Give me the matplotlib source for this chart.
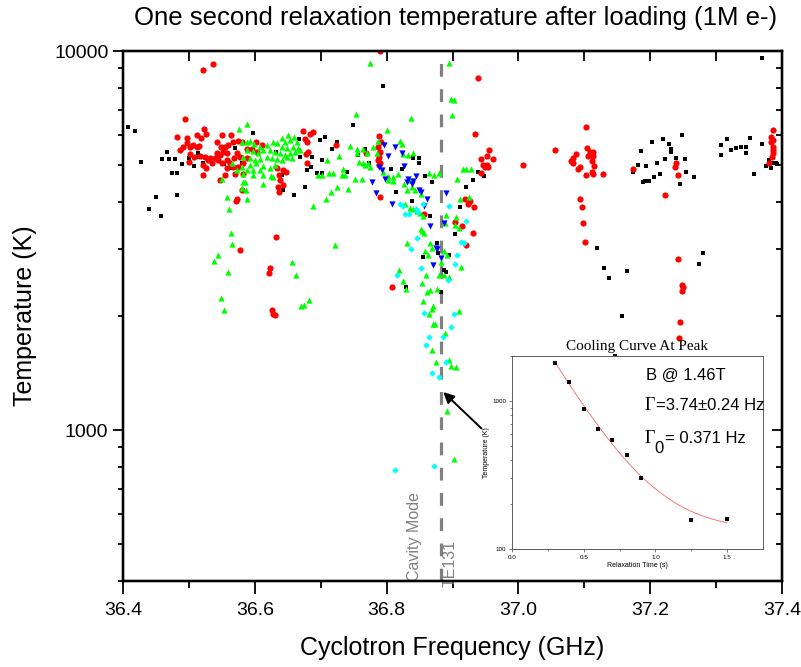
import numpy as np
import matplotlib
matplotlib.use("Agg")
import matplotlib.pyplot as plt
from matplotlib.ticker import FixedLocator, LogLocator, NullFormatter, FixedFormatter

plt.rcParams['font.family'] = ['Liberation Sans', 'DejaVu Sans']

# ---------------- data (frequency in GHz, temperature in K) ----------------
blk_f = [36.408, 36.418, 36.427, 36.439, 36.450, 36.458, 36.459, 36.467, 36.470, 36.474,
         36.479, 36.482, 36.482, 36.490, 36.491, 36.500, 36.508, 36.514, 36.515, 36.521,
         36.535, 36.553, 36.562, 36.570, 36.581, 36.597, 36.632, 36.641, 36.643, 36.659,
         36.667, 36.669, 36.676, 36.679, 36.685, 36.687, 36.694, 36.699, 36.702, 36.702,
         36.707, 36.717, 36.725, 36.740, 36.749, 36.757, 36.767, 36.773, 36.795, 36.807,
         36.814, 36.823, 36.840, 36.849, 36.849, 36.858, 36.869, 36.839, 36.866, 36.877,
         36.878, 36.855, 36.829, 36.895, 36.887, 36.890, 36.883, 36.904, 36.911, 36.920,
         36.931, 36.939, 36.948, 37.119, 37.130, 37.137, 37.165, 37.157, 37.147, 37.174,
         37.182, 37.186, 37.194, 37.189, 37.192, 37.198, 37.203, 37.206, 37.210, 37.215,
         37.219, 37.222, 37.228, 37.232, 37.232, 37.239, 37.248, 37.253, 37.245, 37.254,
         37.266, 37.274, 37.280, 37.307, 37.307, 37.316, 37.322, 37.330, 37.338, 37.345,
         37.345, 37.351, 37.358, 37.370, 37.370, 37.376, 37.380, 37.383, 37.386, 37.391,
         37.392]
blk_t = [6290, 6140, 5110, 3820, 4110, 3660, 5180, 5410, 5180, 4780,
         5180, 4760, 4160, 5020, 5540, 5210, 4960, 5370, 5240, 5050,
         5050, 5020, 4900, 5540, 5050, 6070, 5410, 4700, 4310, 4180,
         5850, 5240, 4390, 4840, 4930, 5240, 4780, 5820, 4760, 5150,
         5920, 5500, 5750, 4810, 6370, 5310, 5500, 5050, 8090, 4870,
         4260, 4870, 5210, 5210, 5080, 4670, 4500, 4010, 3660, 3120,
         2940, 2870, 2390, 2890, 2650, 2620, 2320, 3300, 3870, 4390,
         4580, 4810, 4670, 3030, 2680, 2520, 2630, 2000, 1570, 4810,
         4990, 5440, 4960, 4500, 4530, 4530, 5750, 4640, 5080, 4730,
         5850, 5180, 5680, 5500, 5410, 5210, 6000, 5180, 4450, 4810,
         4640, 2750, 2940, 5640, 5310, 5850, 5470, 5540, 5580, 5580,
         5370, 5880, 4730, 5680, 9580, 4960, 5150, 4900, 5050, 5050,
         5020]

red_f = [36.494, 36.482, 36.497, 36.512, 36.518, 36.523, 36.526, 36.486, 36.491, 36.497,
         36.502, 36.506, 36.512, 36.515, 36.502, 36.500, 36.508, 36.517, 36.524, 36.529,
         36.521, 36.526, 36.521, 36.532, 36.535, 36.543, 36.550, 36.564, 36.549, 36.555,
         36.559, 36.567, 36.575, 36.581, 36.543, 36.547, 36.552, 36.558, 36.540, 36.544,
         36.550, 36.558, 36.562, 36.568, 36.573, 36.578, 36.582, 36.588, 36.558, 36.567,
         36.575, 36.555, 36.570, 36.582, 36.547, 36.602, 36.611, 36.588, 36.596, 36.603,
         36.634, 36.647, 36.637, 36.638, 36.635, 36.643, 36.637, 36.581, 36.573, 36.571,
         36.632, 36.578, 36.623, 36.622, 36.626, 36.628, 36.631, 36.521, 36.537, 36.673,
         36.684, 36.688, 36.676, 36.679, 36.681, 36.678, 36.679, 36.643, 36.723, 36.769,
         36.788, 36.787, 36.790, 36.788, 36.790, 36.788, 36.792, 36.787, 36.790, 36.808,
         36.790, 36.939, 36.934, 36.955, 36.952, 36.961, 36.943, 36.946, 36.952, 36.949,
         36.954, 36.943, 37.007, 36.919, 36.927, 36.924, 36.933, 36.904, 36.914, 36.931,
         36.921, 36.857, 37.056, 37.103, 37.104, 37.109, 37.113, 37.106, 37.113, 37.087,
         37.083, 37.080, 37.083, 37.112, 37.115, 37.094, 37.090, 37.103, 37.112, 37.113,
         37.128, 37.094, 37.097, 37.098, 37.101, 37.174, 37.239, 37.238, 37.242, 37.222,
         37.242, 37.248, 37.250, 37.248, 37.245, 37.244, 37.386, 37.383, 37.386, 37.383,
         37.386, 37.386, 37.386, 37.385, 37.380]
red_t = [6610, 5920, 5890, 6000, 5890, 6220, 6030, 5470, 5570, 5710,
         5570, 5640, 5570, 5610, 5340, 5110, 5240, 5270, 5240, 5150,
         4990, 4900, 4700, 5210, 5080, 5750, 6000, 6000, 5570, 5570,
         5640, 5750, 5780, 5750, 5370, 5310, 5410, 5370, 5210, 5150,
         5080, 5150, 5050, 5210, 5370, 5240, 5080, 5210, 4900, 4930,
         4930, 4700, 4750, 4750, 4560, 5750, 5640, 5500, 5500, 5410,
         4900, 4810, 4700, 4560, 4390, 4420, 4260, 4290, 4080, 4010,
         3240, 2980, 2680, 2590, 2080, 2030, 2010, 8900, 9240, 6140,
         6030, 6100, 5850, 5750, 5410, 5340, 5080, 4840, 5640, 5370,
         5960, 5570, 5410, 5240, 5080, 4990, 5750, 5150, 4110, 2380,
         9970, 8480, 6030, 5470, 5270, 5180, 5180, 4990, 4990, 4930,
         4930, 4760, 4990, 4080, 4010, 3960, 3870, 3530, 3450, 3320,
         3070, 3720, 5470, 6290, 5540, 5410, 5410, 5270, 5270, 5340,
         5210, 5120, 5050, 5120, 4960, 4930, 4870, 4700, 4810, 4730,
         4730, 4080, 3870, 3510, 3140, 4870, 5080, 4930, 4700, 4180,
         2820, 2420, 2390, 2330, 1930, 1750, 6180, 5920, 5820, 5750,
         5570, 5470, 5370, 5240, 5050]

grn_f = [36.588, 36.576, 36.581, 36.588, 36.593, 36.599, 36.608, 36.619, 36.628, 36.634,
         36.641, 36.650, 36.646, 36.653, 36.659, 36.664, 36.641, 36.649, 36.658, 36.666,
         36.588, 36.597, 36.605, 36.612, 36.623, 36.631, 36.638, 36.646, 36.653, 36.661,
         36.669, 36.582, 36.593, 36.600, 36.608, 36.619, 36.626, 36.634, 36.641, 36.649,
         36.656, 36.593, 36.602, 36.612, 36.623, 36.631, 36.588, 36.597, 36.608, 36.582,
         36.597, 36.612, 36.625, 36.628, 36.581, 36.573, 36.565, 36.550, 36.582, 36.585,
         36.581, 36.587, 36.558, 36.561, 36.588, 36.612, 36.564, 36.565, 36.544, 36.538,
         36.559, 36.549, 36.553, 36.656, 36.663, 36.682, 36.675, 36.670, 36.688, 36.708,
         36.716, 36.725, 36.722, 36.696, 36.702, 36.713, 36.719, 36.710, 36.728, 36.732,
         36.737, 36.734, 36.744, 36.754, 36.752, 36.763, 36.741, 36.755, 36.764, 36.755,
         36.770, 36.758, 36.764, 36.772, 36.767, 36.775, 36.779, 36.785, 36.787, 36.801,
         36.837, 36.820, 36.823, 36.795, 36.802, 36.810, 36.802, 36.810, 36.825, 36.832,
         36.840, 36.817, 36.826, 36.831, 36.836, 36.839, 36.843, 36.828, 36.836, 36.840,
         36.846, 36.851, 36.855, 36.864, 36.880, 36.852, 36.857, 36.831, 36.866, 36.858,
         36.863, 36.869, 36.819, 36.825, 36.829, 36.854, 36.861, 36.866, 36.869, 36.870,
         36.855, 36.870, 36.775, 36.895, 36.898, 36.902, 36.899, 36.911, 36.916, 36.920,
         36.928, 36.925, 36.907, 36.905, 36.904, 36.890, 36.889, 36.910, 36.872, 36.852,
         36.854, 36.887, 36.891, 36.883, 36.913, 36.877, 36.860, 36.880, 36.887, 36.895,
         36.864, 36.910, 36.873, 36.889, 36.869, 36.875, 36.895, 36.898, 36.905, 36.892,
         36.902]
grn_t = [6410, 6220, 5750, 5750, 5780, 5680, 5570, 5640, 5750, 5710,
         5890, 6000, 5750, 5820, 5920, 5750, 5570, 5540, 5570, 5540,
         5470, 5440, 5370, 5470, 5470, 5410, 5370, 5310, 5370, 5410,
         5470, 5240, 5210, 5150, 5180, 5240, 5210, 5180, 5150, 5240,
         5210, 4990, 5080, 4960, 4900, 4990, 4840, 4840, 4840, 4730,
         4700, 4700, 4670, 4640, 4930, 4840, 5080, 4590, 4500, 4500,
         4340, 4310, 4110, 3840, 4080, 4470, 3310, 3100, 2890, 2800,
         2620, 2230, 2080, 2770, 2560, 2210, 2140, 2120, 3910, 4060,
         4260, 4390, 3080, 4700, 4700, 4760, 4760, 5150, 5270, 4700,
         4700, 4870, 5610, 6810, 4590, 4590, 4320, 5500, 5500, 5370,
         5370, 5110, 5080, 5080, 4990, 4930, 5570, 5370, 5780, 6180,
         6650, 5780, 5680, 4810, 4670, 4640, 4560, 4530, 5340, 5310,
         5370, 4730, 4470, 4310, 4560, 4390, 4290, 3960, 3860, 3840,
         3790, 3740, 3680, 4780, 4760, 3400, 3310, 3120, 3120, 2970,
         2890, 3030, 2650, 2480, 2360, 2440, 2320, 2340, 2090, 2130,
         2190, 1910, 9310, 9310, 7460, 7420, 6770, 4060, 4870, 4870,
         4870, 4110, 4610, 3640, 3470, 3700, 3510, 3410, 4700, 4190,
         3360, 2960, 2900, 2780, 2700, 2360, 2570, 2570, 2570, 2540,
         2020, 2060, 1900, 1800, 1630, 1510, 1530, 1480, 1470, 1120,
         840]

blu_f = [36.796, 36.813, 36.823, 36.802, 36.826, 36.788, 36.798, 36.793, 36.778, 36.784,
         36.808, 36.832, 36.838, 36.845, 36.840, 36.831, 36.849, 36.852, 36.861, 36.857,
         36.890, 36.887, 36.866, 36.875, 36.877, 36.883, 36.870]
blu_t = [5640, 5570, 5370, 5270, 4960, 4930, 4610, 4840, 4500, 4220,
         3960, 4590, 4470, 4670, 4530, 4500, 4290, 4260, 4080, 3890,
         4220, 3510, 3450, 3030, 3000, 2850, 2730]

cyn_f = [36.820, 36.825, 36.828, 36.834, 36.845, 36.848, 36.855, 36.895, 36.920, 36.846,
         36.837, 36.913, 36.917, 36.907, 36.904, 36.852, 36.816, 36.893, 36.857, 36.902,
         36.898, 36.864, 36.886, 36.860, 36.890, 36.869, 36.880, 36.813, 36.872]
cyn_t = [3940, 3910, 3720, 3720, 3820, 3770, 3940, 3910, 3570, 3220,
         3000, 3140, 3120, 2890, 2750, 2680, 2570, 2490, 2040, 2030,
         1870, 1760, 1760, 1680, 1510, 1415, 1380, 784, 803]

# inset: cooling curve at peak
relax_t = [0.3, 0.4, 0.5, 0.6, 0.7, 0.8, 0.9, 1.25, 1.5]
relax_T = [1815, 1344, 879, 644, 545, 431, 302, 157, 159]
gamma_fit = 3.74

cavity_f = 36.8825
x_major = [36.4, 36.6, 36.8, 37.0, 37.2, 37.4]
x_major_lbl = ["36.4", "36.6", "36.8", "37.0", "37.2", "37.4"]
x_minor = [36.5, 36.7, 36.9, 37.1, 37.3]
y_major = [1000, 10000]
y_major_lbl = ["1000", "10000"]

# ---------------- figure ----------------
W, H = 801, 667
fig = plt.figure(figsize=(W / 100, H / 100), dpi=100)
ax = fig.add_axes([123 / W, 86 / H, 659 / W, 530 / H])

ax.scatter(blk_f, blk_t, marker='s', s=12, c='black', linewidths=0, zorder=3)
ax.scatter(red_f, red_t, marker='o', s=20, c='#ff0000', linewidths=0, zorder=3)
ax.scatter(grn_f, grn_t, marker='^', s=20, c='#00ff00', linewidths=0, zorder=3)
ax.scatter(blu_f, blu_t, marker='v', s=20, c='#0000ff', linewidths=0, zorder=3)
ax.scatter(cyn_f, cyn_t, marker='D', s=11, c='#00ffff', linewidths=0, zorder=3)

ax.set_yscale('log')
ax.set_xlim(36.4, 37.4)
ax.set_ylim(400, 10000)

ax.axvline(cavity_f, color='#808080', lw=2.3, linestyle=(0, (4.0, 3.9)), zorder=2)

ax.xaxis.set_major_locator(FixedLocator(x_major))
ax.xaxis.set_major_formatter(FixedFormatter(x_major_lbl))
ax.xaxis.set_minor_locator(FixedLocator(x_minor))
ax.yaxis.set_major_locator(FixedLocator(y_major))
ax.yaxis.set_major_formatter(FixedFormatter(y_major_lbl))
ax.yaxis.set_minor_locator(LogLocator(base=10, subs=np.arange(2, 10)))
ax.yaxis.set_minor_formatter(NullFormatter())
ax.tick_params(which='both', direction='out', labelsize=14, width=1.3, top=False, right=False)
ax.tick_params(axis='x', which='major', length=9, pad=6)
ax.tick_params(axis='x', which='minor', length=5)
ax.tick_params(axis='y', which='major', length=7)
ax.tick_params(axis='y', which='minor', length=3.5)
for sp in ax.spines.values():
    sp.set_linewidth(1.6)

ax.set_xlabel("Cyclotron Frequency (GHz)", fontsize=18, labelpad=12)
ax.set_ylabel("Temperature (K)", fontsize=18, labelpad=12)
fig.text(456 / W, 1 - 18 / H, "One second relaxation temperature after loading (1M e-)",
         fontsize=18.5, ha='center', va='center')

# top and right ticks pointing in
axt = ax.twiny()
axt.set_xlim(ax.get_xlim())
axt.xaxis.set_major_locator(FixedLocator(x_major + x_minor))
axt.tick_params(axis='x', direction='in', length=7, width=1.3, labeltop=False)
axr = ax.twinx()
axr.set_yscale('log')
axr.set_ylim(ax.get_ylim())
axr.yaxis.set_major_locator(FixedLocator(y_major))
axr.yaxis.set_minor_locator(LogLocator(base=10, subs=np.arange(2, 10)))
axr.yaxis.set_minor_formatter(NullFormatter())
axr.tick_params(axis='y', which='major', direction='in', length=7, width=1.3, labelright=False)
axr.tick_params(axis='y', which='minor', direction='in', length=4, width=1.3, labelright=False)
for a in (axt, axr):
    for sp in a.spines.values():
        sp.set_linewidth(1.6)

# text labels for the cavity mode
blend = ax.get_xaxis_transform()
ax.text(36.843, 0.0, "Cavity Mode", rotation=90, ha='center', va='bottom',
        color='#808080', fontsize=11.5, transform=blend)
ax.text(36.8965, -0.012, "TE131", rotation=90, ha='center', va='bottom',
        color='#808080', fontsize=11.5, transform=blend, clip_on=False, zorder=5)

ax.annotate("", xy=(36.886, 1260), xytext=(36.944, 1010),
            arrowprops=dict(arrowstyle='-|>', color='black', lw=1.4,
                            mutation_scale=16, shrinkA=0, shrinkB=0))

# ---------------- inset ----------------
axi = fig.add_axes([512 / W, (H - 549) / H, 251 / W, 193 / H])
axi.set_facecolor('white')
axi.scatter(relax_t, relax_T, marker='s', s=8, c='black', linewidths=0, zorder=3)
tt = np.asarray(relax_t)
basis = np.column_stack([np.exp(-gamma_fit * tt), np.ones_like(tt)])
coef, *_ = np.linalg.lstsq(basis, np.asarray(relax_T, float), rcond=None)
tc = np.linspace(min(relax_t), max(relax_t), 200)
axi.plot(tc, coef[0] * np.exp(-gamma_fit * tc) + coef[1], color='#ff6060', lw=0.6, zorder=2)
axi.set_yscale('log')
axi.set_xlim(0, 1.75)
axi.set_ylim(100, 2015)
axi.xaxis.set_major_locator(FixedLocator([0.0, 0.5, 1.0, 1.5]))
axi.xaxis.set_major_formatter(FixedFormatter(["0.0", "0.5", "1.0", "1.5"]))
axi.xaxis.set_minor_locator(FixedLocator([0.25, 0.75, 1.25]))
axi.yaxis.set_major_locator(FixedLocator([100, 1000]))
axi.yaxis.set_major_formatter(FixedFormatter(["100", "1000"]))
axi.yaxis.set_minor_locator(LogLocator(base=10, subs=np.arange(2, 10)))
axi.yaxis.set_minor_formatter(NullFormatter())
axi.tick_params(which='both', direction='out', labelsize=4.5, width=0.5, color='#444444',
                pad=1.5)
axi.tick_params(which='major', length=2.5)
axi.tick_params(which='minor', length=1.5)
for sp in axi.spines.values():
    sp.set_linewidth(0.6)
    sp.set_color('#444444')
axi.set_xlabel("Relaxation Time (s)", fontsize=5, labelpad=2)
axi.set_ylabel("Temperature (K)", fontsize=5, labelpad=2)
axi.set_title("Cooling Curve At Peak", fontsize=11, family='Liberation Serif', pad=4)

axi.text(0.534, 0.902, "B @ 1.46T", transform=axi.transAxes, fontsize=12, va='center', ha='left')
axi.text(0.526, 0.741, "Γ", transform=axi.transAxes, fontsize=13, va='center', ha='left',
         family='Liberation Serif')
axi.text(0.572, 0.741, "=3.74±0.24 Hz", transform=axi.transAxes, fontsize=12, va='center', ha='left')
axi.text(0.526, 0.575, "Γ", transform=axi.transAxes, fontsize=13, va='center', ha='left',
         family='Liberation Serif')
axi.text(0.568, 0.52, "0", transform=axi.transAxes, fontsize=12, va='center', ha='left')
axi.text(0.608, 0.575, "= 0.371 Hz", transform=axi.transAxes, fontsize=12, va='center', ha='left')

fig.savefig("out.png", dpi=100)
